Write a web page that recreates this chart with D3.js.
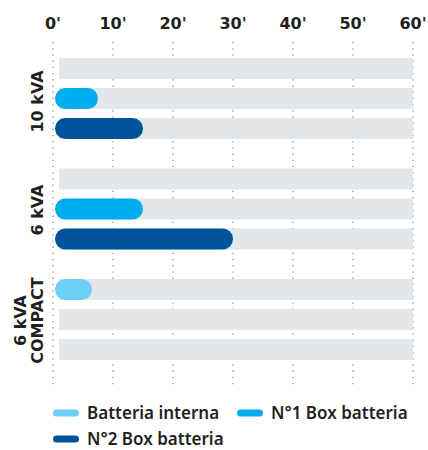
<!DOCTYPE html>
<html>
<head>
<meta charset="utf-8">
<script src="https://cdn.jsdelivr.net/npm/d3@7"></script>
<style>
  body { margin: 0; background: #fff; }
  svg text { font-family: "Noto Sans", sans-serif; fill: #231f20; }
  svg text.tick, svg text.glabel { font-family: "DejaVu Sans", sans-serif; }
</style>
</head>
<body>
<svg id="canvas" width="428" height="450"></svg>
<script>
// data
let groups = ["10 kVA", "6 kVA", "6 kVA COMPACT"];
let series = ["Batteria interna", "N°1 Box batteria", "N°2 Box batteria"];
let colors = ["#6dcff6", "#00aeef", "#00529b"];
let ticks = [0, 10, 20, 30, 40, 50, 60];
// minutes, one array per series (null = no bar)
let interna = [null, null, 6.5];
let box1 = [7.5, 15, null];
let box2 = [15, 30, null];

let values = [interna, box1, box2];

let canvas = d3.select("#canvas");

let x = d3.scaleLinear().domain([0, 60]).range([53, 413]);
let yGroup = d3.scaleBand().domain(groups).range([58, 360]).paddingInner(0.267).paddingOuter(0);
let yRow = d3.scaleBand().domain(series).range([0, yGroup.bandwidth()]).paddingInner(0.3).paddingOuter(0);

// tick labels on top
canvas.selectAll("text.tick")
  .data(ticks)
  .enter()
  .append("text")
  .attr("class", "tick")
  .attr("x", (d) => x(d))
  .attr("y", 29)
  .attr("text-anchor", "middle")
  .style("font-size", "16px")
  .style("font-weight", "700")
  .text((d) => d + "'");

// dotted grid
canvas.selectAll("line.grid")
  .data(ticks)
  .enter()
  .append("line")
  .attr("class", "grid")
  .attr("x1", (d) => x(d))
  .attr("x2", (d) => x(d))
  .attr("y1", 42)
  .attr("y2", 386)
  .attr("stroke", "#8f9296")
  .attr("stroke-width", 1.3)
  .attr("stroke-dasharray", "1.3,4.9");

// rows
let rows = [];
groups.forEach((g, gi) => {
  series.forEach((s, si) => {
    rows.push({ group: g, serie: s, color: colors[si], value: values[si][gi] });
  });
});

canvas.selectAll("rect.bg")
  .data(rows)
  .enter()
  .append("rect")
  .attr("class", "bg")
  .attr("x", x(0) + 6)
  .attr("width", x(60) - x(0) - 6)
  .attr("y", (d) => yGroup(d.group) + yRow(d.serie))
  .attr("height", yRow.bandwidth())
  .attr("fill", "#e1e7eb");

canvas.selectAll("rect.bar")
  .data(rows.filter((d) => d.value != null))
  .enter()
  .append("rect")
  .attr("class", "bar")
  .attr("x", x(0) + 2)
  .attr("width", (d) => x(d.value) - x(0) - 2)
  .attr("y", (d) => yGroup(d.group) + yRow(d.serie))
  .attr("height", yRow.bandwidth())
  .attr("rx", yRow.bandwidth() / 2)
  .attr("fill", (d) => d.color);

// group labels (rotated)
groups.forEach((g, gi) => {
  let cy = yGroup(g) + yGroup.bandwidth() / 2 + (gi == 0 ? 3 : 1);
  let words = g == "6 kVA COMPACT" ? ["6 kVA", "COMPACT"] : [g];
  let t = canvas.append("text")
    .attr("class", "glabel")
    .attr("transform", "translate(43," + cy + ") rotate(-90)")
    .attr("text-anchor", "middle")
    .style("font-size", "16px")
    .style("font-weight", "700");
  words.forEach((w, i) => {
    t.append("tspan")
      .attr("x", 0)
      .attr("y", (i - words.length + 1) * 17)
      .text(w);
  });
});

// legend
let legendPos = [[53, 413], [237, 413], [53, 439]];
let legend = canvas.selectAll("g.legend")
  .data(series)
  .enter()
  .append("g")
  .attr("class", "legend")
  .attr("transform", (d, i) => "translate(" + legendPos[i][0] + "," + legendPos[i][1] + ")");

legend.append("rect")
  .attr("x", 0)
  .attr("y", -3.5)
  .attr("width", 26)
  .attr("height", 7)
  .attr("rx", 3.5)
  .attr("fill", (d, i) => colors[i]);

legend.append("text")
  .attr("x", 34)
  .attr("y", 6)
  .style("font-size", "17px")
  .style("font-weight", "600")
  .text((d) => d);
</script>
</body>
</html>
